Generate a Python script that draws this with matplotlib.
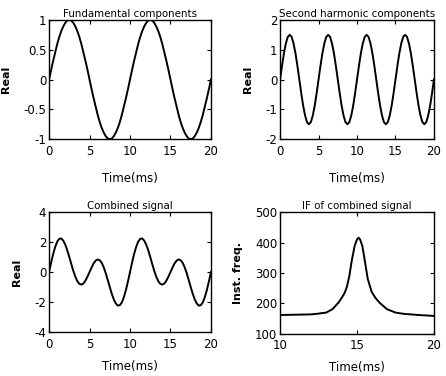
import matplotlib
matplotlib.use("Agg")
from matplotlib import pyplot as plt

# time axis for the three waveforms, 0.25 ms steps
t = [i * 0.25 for i in range(81)]

# fundamental component, one 10 ms cycle
fund_cycle = [0, .16, .31, .45, .59, .71, .81, .89, .95, .99,
              1, .99, .95, .89, .81, .71, .59, .45, .31, .16,
              0, -.16, -.31, -.45, -.59, -.71, -.81, -.89, -.95, -.99,
              -1, -.99, -.95, -.89, -.81, -.71, -.59, -.45, -.31, -.16]
fund = fund_cycle * 2 + [0]

# second harmonic, one 5 ms cycle
harm_cycle = [0, .46, .88, 1.21, 1.43, 1.5, 1.43, 1.21, .88, .46,
              0, -.46, -.88, -1.21, -1.43, -1.5, -1.43, -1.21, -.88, -.46]
harm = harm_cycle * 4 + [0]

# combined signal, one 10 ms cycle
comb_cycle = [0, .62, 1.19, 1.66, 2.02, 2.21, 2.24, 2.10, 1.83, 1.45,
              1.00, .53, .07, -.32, -.62, -.79, -.84, -.76, -.57, -.30,
              0, .30, .57, .76, .84, .79, .62, .32, -.07, -.53,
              -1.00, -1.45, -1.83, -2.10, -2.24, -2.21, -2.02, -1.66, -1.19, -.62]
comb = comb_cycle * 2 + [0]

# instantaneous frequency of combined signal
if_t = [10, 11, 12, 12.4, 13.0, 13.4, 13.8, 14.0, 14.2, 14.35, 14.5, 14.65, 14.85,
        15.0, 15.1, 15.2, 15.35, 15.5, 15.7, 15.95, 16.2, 16.45, 16.95, 17.5, 18, 19, 20]
if_f = [162, 163, 164, 166, 170, 181, 203, 218, 235, 256, 290, 338, 390,
        410, 416, 410, 388, 342, 280, 238, 218, 203, 181, 170, 166, 162, 159]

plt.rcParams['font.family'] = 'DejaVu Sans'
plt.rcParams['axes.unicode_minus'] = False

fig = plt.figure(figsize=(4.46, 3.76), dpi=100)

panels = [
    ([0.110, 0.630, 0.363, 0.317], t, fund, 'Fundamental components', 'Real',
     (0, 20), [0, 5, 10, 15, 20], (-1, 1), [-1, -0.5, 0, 0.5, 1], 10),
    ([0.628, 0.630, 0.345, 0.317], t, harm, 'Second harmonic components', 'Real',
     (0, 20), [0, 5, 10, 15, 20], (-2, 2), [-2, -1, 0, 1, 2], 10),
    ([0.110, 0.117, 0.363, 0.319], t, comb, 'Combined signal', 'Real',
     (0, 20), [0, 5, 10, 15, 20], (-4, 4), [-4, -2, 0, 2, 4], 7),
    ([0.628, 0.112, 0.345, 0.324], if_t, if_f, 'IF of combined signal', 'Inst. freq.',
     (10, 20), [10, 15, 20], (100, 500), [100, 200, 300, 400, 500], 6),
]

for rect, x, y, title, ylab, xl, xt, yl, yt, xpad in panels:
    ax = fig.add_axes(rect)
    ax.plot(x, y, color='black', linewidth=1.4)
    ax.set_xlim(*xl)
    ax.set_ylim(*yl)
    ax.set_xticks(xt)
    ax.set_yticks(yt)
    ax.set_yticklabels([('%g' % v) for v in yt])
    ax.tick_params(direction='in', top=True, right=True, length=3, width=0.8,
                   labelsize=8.5)
    ax.tick_params(axis='y', pad=2)
    ax.tick_params(axis='x', pad=4)
    for s in ax.spines.values():
        s.set_linewidth(1.0)
    ax.set_title(title, fontsize=7.4, pad=2)
    ax.set_xlabel('Time(ms)', fontsize=8.5, labelpad=xpad)
    ax.set_ylabel(ylab, fontsize=8, fontweight='bold', labelpad=9)

plt.savefig("out.png", dpi=100)
